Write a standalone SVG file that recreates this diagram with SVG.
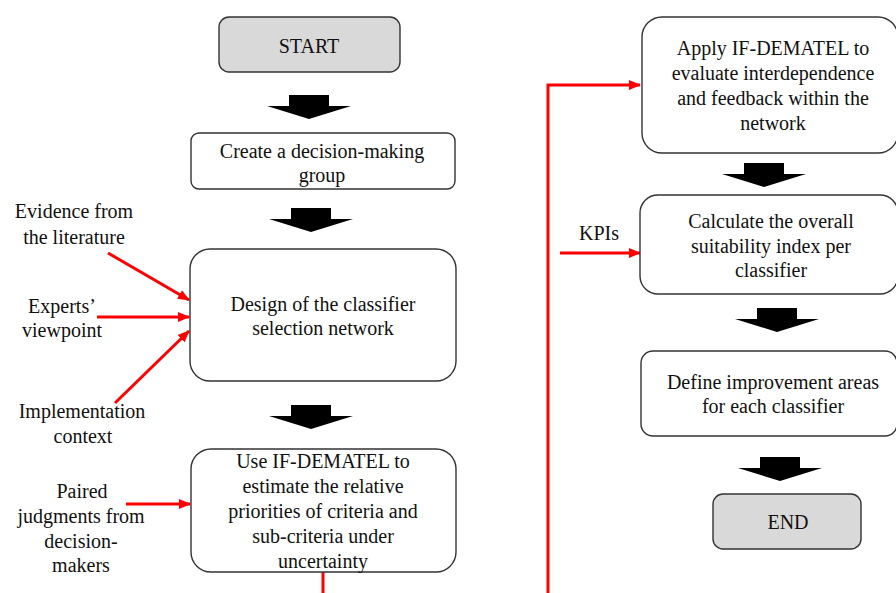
<svg xmlns="http://www.w3.org/2000/svg" width="896" height="593" viewBox="0 0 896 593">
<style>
.box{fill:#fff;stroke:#333;stroke-width:1.4}
.term{fill:#d9d9d9;stroke:#333;stroke-width:1.4}
text{font-family:"Liberation Serif","Times New Roman",serif;font-size:20px;fill:#111;text-anchor:middle}
.red{stroke:#ff0000;stroke-width:3;fill:none}
</style>
<defs>
<marker id="ah" markerUnits="userSpaceOnUse" markerWidth="12" markerHeight="12" refX="11" refY="6" orient="auto">
<path d="M0,1 L12,6 L0,11 Z" fill="#ff0000"/>
</marker>
<path id="blk" d="M-20,-24 L20,-24 L20,-13 L42,-13 L0,0 L-42,-13 L-20,-13 Z" fill="#000"/>
</defs>
<rect width="896" height="593" fill="#fff"/>

<g id="connectors">
<use href="#blk" transform="translate(309,119)"/>
<use href="#blk" transform="translate(311,232)"/>
<use href="#blk" transform="translate(311,429)"/>
<use href="#blk" transform="translate(764,187)"/>
<use href="#blk" transform="translate(777,332)"/>
<use href="#blk" transform="translate(780,481)"/>
<line class="red" x1="108" y1="253" x2="189" y2="300" marker-end="url(#ah)"/>
<line class="red" x1="97" y1="317" x2="189" y2="317" marker-end="url(#ah)"/>
<line class="red" x1="115" y1="403" x2="189" y2="331" marker-end="url(#ah)"/>
<line class="red" x1="126" y1="504" x2="190" y2="504" marker-end="url(#ah)"/>
<path class="red" d="M323,572 V610 H548 V85 H640" marker-end="url(#ah)"/>
<line class="red" x1="560" y1="253" x2="640" y2="253" marker-end="url(#ah)"/>
</g>

<g id="start">
<rect class="term" x="219" y="17" width="181" height="55" rx="10"/>
<text x="309" y="53">START</text>
</g>
<g id="create">
<rect class="box" x="191" y="133" width="264" height="56" rx="8"/>
<text x="322" y="158">Create a decision-making</text>
<text x="322" y="182">group</text>
</g>
<g id="design">
<rect class="box" x="190" y="249" width="266" height="132" rx="20"/>
<text x="323" y="311">Design of the classifier</text>
<text x="323" y="335">selection network</text>
</g>
<g id="use">
<rect class="box" x="191" y="449" width="265" height="123" rx="20"/>
<text x="323" y="468">Use IF-DEMATEL to</text>
<text x="323" y="493">estimate the relative</text>
<text x="323" y="518">priorities of criteria and</text>
<text x="323" y="543">sub-criteria under</text>
<text x="323" y="568">uncertainty</text>
</g>
<g id="apply">
<rect class="box" x="642" y="17" width="256" height="136" rx="20"/>
<text x="773" y="55">Apply IF-DEMATEL to</text>
<text x="773" y="80">evaluate interdependence</text>
<text x="773" y="105">and feedback within the</text>
<text x="773" y="130">network</text>
</g>
<g id="calc">
<rect class="box" x="640" y="195" width="258" height="99" rx="18"/>
<text x="771" y="228">Calculate the overall</text>
<text x="771" y="253">suitability index per</text>
<text x="771" y="277">classifier</text>
</g>
<g id="define">
<rect class="box" x="641" y="351" width="256" height="85" rx="12"/>
<text x="773" y="389">Define improvement areas</text>
<text x="773" y="413">for each classifier</text>
</g>
<g id="end">
<rect class="term" x="713" y="494" width="148" height="55" rx="10"/>
<text x="788" y="529">END</text>
</g>
<g id="inputs">
<text x="74" y="218">Evidence from</text>
<text x="74" y="244">the literature</text>
<text x="62" y="313">Experts’</text>
<text x="62" y="337">viewpoint</text>
<text x="82" y="418">Implementation</text>
<text x="83" y="443">context</text>
<text x="82" y="498">Paired</text>
<text x="81" y="523">judgments from</text>
<text x="81" y="548">decision-</text>
<text x="81" y="572">makers</text>
<text x="599" y="240">KPIs</text>
</g>
</svg>
